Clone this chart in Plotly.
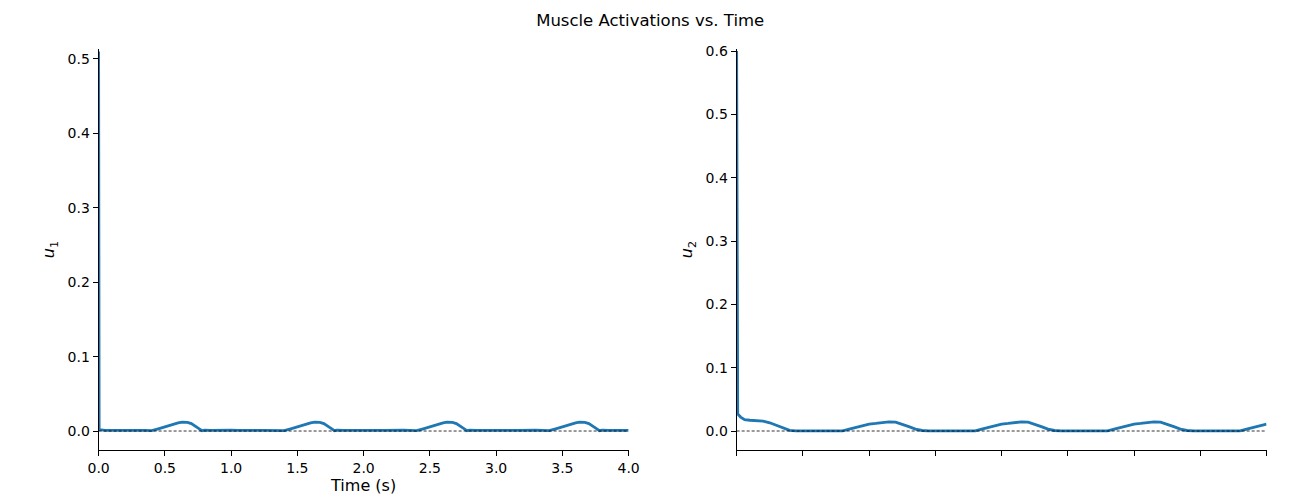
import plotly.graph_objects as go

# Muscle activation traces
time_u1 = [
    0.0, 0.004, 0.05, 0.1, 0.15, 0.2, 0.25, 0.3, 0.35, 0.4,
    0.45, 0.5, 0.55, 0.6, 0.63, 0.67, 0.7, 0.73, 0.76, 0.78,
    0.8, 0.85, 0.9, 0.95, 1.0, 1.05, 1.1, 1.15, 1.2, 1.25, 1.3, 1.35, 1.4,
    1.45, 1.5, 1.55, 1.6, 1.63, 1.67, 1.7, 1.73, 1.76, 1.78,
    1.8, 1.85, 1.9, 1.95, 2.0, 2.05, 2.1, 2.15, 2.2, 2.25, 2.3, 2.35, 2.4,
    2.45, 2.5, 2.55, 2.6, 2.63, 2.67, 2.7, 2.73, 2.76, 2.78,
    2.8, 2.85, 2.9, 2.95, 3.0, 3.05, 3.1, 3.15, 3.2, 3.25, 3.3, 3.35, 3.4,
    3.45, 3.5, 3.55, 3.6, 3.63, 3.67, 3.7, 3.73, 3.76, 3.78,
    3.8, 3.85, 3.9, 3.95, 4.0,
]
u1 = [
    0.51, 0.002, 0.001, 0.0008, 0.0012, 0.0009, 0.0011, 0.0008, 0.0010, 0.0005,
    0.003, 0.006, 0.009, 0.011, 0.012, 0.0115, 0.010, 0.007, 0.003, 0.0005,
    0.0012, 0.0009, 0.0013, 0.0008, 0.0011, 0.0009, 0.0012, 0.0008, 0.0010, 0.0009, 0.0011, 0.0008, 0.0005,
    0.003, 0.006, 0.009, 0.011, 0.012, 0.0115, 0.010, 0.007, 0.003, 0.0005,
    0.0012, 0.0009, 0.0011, 0.0008, 0.0012, 0.0009, 0.0010, 0.0008, 0.0011, 0.0009, 0.0012, 0.0008, 0.0005,
    0.003, 0.006, 0.009, 0.011, 0.012, 0.0115, 0.010, 0.007, 0.003, 0.0005,
    0.0012, 0.0009, 0.0011, 0.0008, 0.0012, 0.0009, 0.0010, 0.0008, 0.0011, 0.0009, 0.0012, 0.0008, 0.0005,
    0.003, 0.006, 0.009, 0.011, 0.012, 0.0115, 0.010, 0.007, 0.003, 0.0005,
    0.0012, 0.0009, 0.0011, 0.0010, 0.0009,
]

time_u2 = [
    0.0, 0.008, 0.03, 0.06, 0.1, 0.15, 0.2, 0.25, 0.3, 0.35, 0.4, 0.45,
    0.5, 0.6, 0.7, 0.8, 0.85, 0.9, 0.95, 1.0, 1.05, 1.1, 1.15, 1.2, 1.25, 1.3, 1.35, 1.4, 1.45,
    1.5, 1.6, 1.7, 1.8, 1.85, 1.9, 1.95, 2.0, 2.05, 2.1, 2.15, 2.2, 2.25, 2.3, 2.35, 2.4, 2.45,
    2.5, 2.6, 2.7, 2.8, 2.85, 2.9, 2.95, 3.0, 3.05, 3.1, 3.15, 3.2, 3.25, 3.3, 3.35, 3.4, 3.45,
    3.5, 3.6, 3.7, 3.8, 3.85, 3.9, 3.95, 4.0,
]
u2 = [
    0.60, 0.027, 0.022, 0.018, 0.017, 0.0165, 0.0155, 0.013, 0.009, 0.004, 0.001, 0.0003,
    0.0004, 0.0002, 0.0004, 0.0003, 0.003, 0.006, 0.009, 0.011, 0.012, 0.013, 0.0145, 0.014, 0.011, 0.007, 0.003, 0.0008, 0.0003,
    0.0004, 0.0002, 0.0004, 0.0003, 0.003, 0.006, 0.009, 0.011, 0.012, 0.013, 0.0145, 0.014, 0.011, 0.007, 0.003, 0.0008, 0.0003,
    0.0004, 0.0002, 0.0004, 0.0003, 0.003, 0.006, 0.009, 0.011, 0.012, 0.013, 0.0145, 0.014, 0.011, 0.007, 0.003, 0.0008, 0.0003,
    0.0004, 0.0002, 0.0004, 0.0003, 0.003, 0.006, 0.009, 0.011,
]

x_ticks = [0.0, 0.5, 1.0, 1.5, 2.0, 2.5, 3.0, 3.5, 4.0]
u1_ticks = [0.0, 0.1, 0.2, 0.3, 0.4, 0.5]
u2_ticks = [0.0, 0.1, 0.2, 0.3, 0.4, 0.5, 0.6]

LINE_COLOR = '#1f77b4'
FONT = 'DejaVu Sans'

fig = go.Figure()
fig.add_trace(go.Scatter(
    x=time_u1, y=u1, mode='lines',
    line=dict(color=LINE_COLOR, width=2.8),
    xaxis='x', yaxis='y', showlegend=False
))
fig.add_trace(go.Scatter(
    x=time_u2, y=u2, mode='lines',
    line=dict(color=LINE_COLOR, width=2.8),
    xaxis='x2', yaxis='y2', showlegend=False
))

axis_style = dict(
    showgrid=False, zeroline=False, showline=True, linecolor='black',
    linewidth=1, ticks='outside', ticklen=5, tickwidth=1, tickcolor='black',
    tickfont=dict(family=FONT, size=14, color='black'), automargin=False,
)

# page body adds ~8px offset, so domains are nudged up/left to compensate
fig.update_layout(
    width=1300, height=500,
    margin=dict(l=0, r=0, t=0, b=0),
    plot_bgcolor='white', paper_bgcolor='white',
    font=dict(family=FONT, size=13, color='black'),
    title=dict(text='Muscle Activations vs. Time', x=0.494, xanchor='center',
               xref='paper', yref='container', y=0.976, yanchor='middle',
               font=dict(family=FONT, size=16.5), automargin=False),
    xaxis=dict(domain=[0.0697, 0.4774], range=[0, 4], tickvals=x_ticks,
               tickformat='.1f', title=dict(text='Time (s)', standoff=2),
               anchor='y', **axis_style),
    yaxis=dict(domain=[0.116, 0.918], range=[-0.0255, 0.5134], tickvals=u1_ticks,
               tickformat='.1f', title=dict(text='<i>u</i><sub>1</sub>', standoff=8),
               anchor='x', **axis_style),
    xaxis2=dict(domain=[0.5605, 0.9681], range=[0, 4], tickvals=x_ticks,
                showticklabels=False, anchor='y2', **axis_style),
    yaxis2=dict(domain=[0.116, 0.918], range=[-0.030, 0.6032], tickvals=u2_ticks,
                tickformat='.1f', title=dict(text='<i>u</i><sub>2</sub>', standoff=8),
                anchor='x2', **axis_style),
)

# dashed reference line at zero activation on each panel
for xref, yref in (('x', 'y'), ('x2', 'y2')):
    fig.add_shape(type='line', xref=xref, yref=yref, x0=0, x1=4, y0=0, y1=0,
                  line=dict(color='black', width=0.8, dash='3px,2px'), layer='above')

fig.write_html("out.html")
